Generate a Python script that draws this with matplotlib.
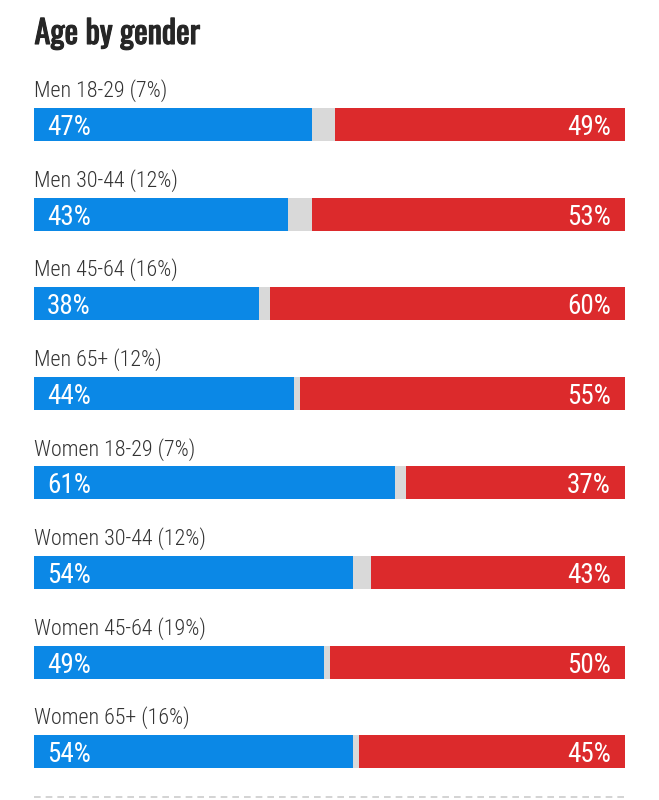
import matplotlib.pyplot as plt
import matplotlib.patheffects as pe

groups = ["Men 18-29 (7%)", "Men 30-44 (12%)", "Men 45-64 (16%)", "Men 65+ (12%)",
          "Women 18-29 (7%)", "Women 30-44 (12%)", "Women 45-64 (19%)", "Women 65+ (16%)"]
dem = [47, 43, 38, 44, 61, 54, 49, 54]
rep = [49, 53, 60, 55, 37, 43, 50, 45]

blue = '#0b88e6'
red = '#dc2a2c'
grey = '#d9d9d9'

plt.rcParams['font.family'] = ['Roboto Condensed', 'DejaVu Sans']

W, H = 659, 800
fig = plt.figure(figsize=(W / 100, H / 100), dpi=100)
ax = fig.add_axes([34 / W, 0, 591 / W, 1])
ax.set_xlim(0, 100)
ax.set_ylim(H, 0)
ax.axis('off')

# Oswald only ships at 400 here, so thicken it a little with a stroke for the bold title
fig.text(34.5 / W, 1 - 44 / H, "Age by gender", fontsize=23.2, family='Oswald',
         color='#262626', va='baseline', ha='left',
         path_effects=[pe.withStroke(linewidth=0.8, foreground='#262626')])

top0, step, bh = 108, 89.6, 33
for i, (g, d, r) in enumerate(zip(groups, dem, rep)):
    top = top0 + step * i
    ax.barh(top + bh / 2, d, height=bh, left=0, color=blue)
    ax.barh(top + bh / 2, 100 - d - r, height=bh, left=d, color=grey)
    ax.barh(top + bh / 2, r, height=bh, left=100 - r, color=red)
    ax.text(0, top - 11, g, fontsize=15.8, fontweight=300, color='#333333',
            va='baseline', ha='left')
    ax.text(2.2, top + 27, f"{d}%", fontsize=19.5, color='white', va='baseline', ha='left')
    ax.text(97.6, top + 27, f"{r}%", fontsize=19.5, color='white', va='baseline', ha='right')

ax.plot([0, 100], [797, 797], color='#cccccc', lw=1.2, ls=(0, (4, 3)))

fig.savefig('out.png', dpi=100)
